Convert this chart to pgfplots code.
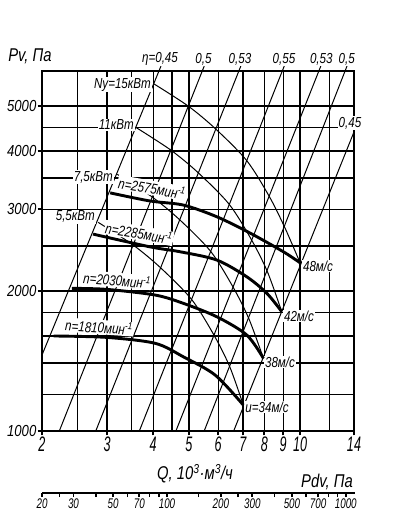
\documentclass[border=0pt]{standalone}
\usepackage{fontspec}
\setmainfont{Liberation Sans}
\newfontfamily\fA{Liberation Sans}[FakeStretch=0.8]
\newfontfamily\fX{Liberation Sans}[FakeStretch=0.6]
\newfontfamily\fY{Liberation Sans}[FakeStretch=0.82]
\newfontfamily\fP{Liberation Sans}[FakeStretch=0.7]
\usepackage{pgfplots}
\pgfplotsset{compat=1.18}

\begin{document}
\begin{tikzpicture}[
  lab/.style={font=\fA\itshape\fontsize{14.5}{14.5}\selectfont, fill=white, inner sep=1pt},
  thinl/.style={black, line width=1pt},
  thickl/.style={black, line width=2.9pt, smooth},
]
\useasboundingbox (-42pt,-96pt) rectangle (355pt,431pt);
\begin{axis}[
  at={(0pt,0pt)}, anchor=south west,
  scale only axis, width=312pt, height=360pt,
  xmode=log, ymode=log,
  xmin=2, xmax=14, ymin=1000, ymax=5950,
  xtick={2,3,4,5,6,7,8,9,10,14},
  xticklabels={2,3,4,5,6,7,8,9,10,14},
  minor xtick={}, minor ytick={},
  extra x ticks={2.5,3.5,4.5,12},
  extra x tick labels={},
  extra x tick style={major tick length=0pt, grid=major, major grid style={black, line width=1.3pt}},
  ytick={1000,2000,3000,4000,5000},
  yticklabels={1000,2000,3000,4000,5000},
  extra y ticks={1200,1400,1600,1800,2500,3500,4500},
  extra y tick labels={},
  extra y tick style={major tick length=0pt, grid=major, major grid style={black, line width=1.3pt}},
  grid=major,
  major grid style={black, line width=1.3pt},
  axis line style={black, line width=2.2pt},
  tick align=outside,
  major tick length=4.5pt,
  tick style={black, line width=1.6pt},
  xtick pos=left, ytick pos=left,
  xticklabel style={font=\fX\itshape\fontsize{21}{21}\selectfont, inner sep=1pt},
  yticklabel style={font=\fY\itshape\fontsize{16}{16}\selectfont, inner sep=1pt},
  clip=false,
]
% efficiency lines
\addplot[thinl] coordinates {(2,1457) (4.20,6095)};
\addplot[thinl] coordinates {(2.228,1000) (5.50,6095)};
\addplot[thinl] coordinates {(2.797,1000) (6.91,6095)};
\addplot[thinl] coordinates {(3.67,1000) (9.06,6095)};
\addplot[thinl] coordinates {(4.61,1000) (11.38,6095)};
\addplot[thinl] coordinates {(5.50,1000) (13.4,6095)};
\addplot[thinl] coordinates {(6.61,1000) (14,4400)};
% power lines
\addplot[thinl, smooth] coordinates {(4.006,5591) (4.981,4998) (5.909,4464) (7.171,3817) (8.246,3200) (9.099,2736) (10.0,2301)};
\addplot[thinl, smooth] coordinates {(3.594,4498) (4.467,4020) (5.302,3592) (6.432,3072) (7.396,2574) (8.159,2200) (8.92,1806)};
\addplot[thinl, smooth] coordinates {(3.199,3565) (3.978,3187) (4.72,2847) (5.728,2434) (6.584,2040) (7.265,1745) (7.96,1433)};
\addplot[thinl, smooth] coordinates {(2.841,2810) (3.531,2512) (4.191,2244) (5.084,1919) (5.846,1608) (6.449,1375) (7.02,1137)};
% labels
\node[lab, rotate=-10] at (rel axis cs:0.3526,0.675) {n=2575мин\textsuperscript{-1}};
\node[lab, rotate=-10] at (rel axis cs:0.3109,0.55) {n=2285мин\textsuperscript{-1}};
\node[lab, rotate=-5] at (rel axis cs:0.2404,0.4194) {n=2030мин\textsuperscript{-1}};
\node[lab, rotate=-4] at (rel axis cs:0.1827,0.2889) {n=1810мин\textsuperscript{-1}};
\node[lab, anchor=east] at (rel axis cs:0.3526,0.9611) {Ny=15кВт};
\node[lab, anchor=east] at (rel axis cs:0.2981,0.85) {11кВт};
\node[lab, anchor=east] at (rel axis cs:0.2308,0.7056) {7,5кВт};
\node[lab, anchor=east] at (rel axis cs:0.1731,0.5953) {5,5кВт};
\node[lab] at (rel axis cs:0.8846,0.4583) {48м/с};
\node[lab] at (rel axis cs:0.8237,0.3194) {42м/с};
\node[lab] at (rel axis cs:0.7628,0.1917) {38м/с};
\node[lab] at (rel axis cs:0.7212,0.0667) {u=34м/с};
\node[lab] at (rel axis cs:0.3782,1.0347) {η=0,45};
\node[lab] at (rel axis cs:0.5176,1.0333) {0,5};
\node[lab] at (rel axis cs:0.6346,1.0333) {0,53};
\node[lab] at (rel axis cs:0.7756,1.0333) {0,55};
\node[lab] at (rel axis cs:0.8952,1.0333) {0,53};
\node[lab] at (rel axis cs:0.9766,1.0333) {0,5};
\node[lab] at (rel axis cs:0.9872,0.8556) {0,45};
% pressure curves
\addplot[thickl] coordinates {(3.06,3253) (3.92,3125) (4.83,3062) (5.95,2890) (7.32,2666) (9.01,2430) (10.0,2301)};
\addplot[thickl] coordinates {(2.75,2652) (3.92,2490) (4.73,2430) (5.95,2332) (7.17,2147) (8.13,1978) (8.92,1806)};
\addplot[thickl] coordinates {(2.41,2027) (2.99,2017) (4.05,1961) (4.83,1882) (5.95,1761) (7.17,1609) (7.96,1433)};
\addplot[thickl] coordinates {(2.15,1601) (2.99,1590) (4.05,1544) (4.83,1444) (5.89,1319) (7.02,1137)};
\end{axis}
\begin{axis}[
  at={(0pt,-61.7pt)}, anchor=south west,
  scale only axis, width=312pt, height=1pt,
  xmode=log, xmin=20, xmax=1112, ymin=0, ymax=1,
  axis line style={draw=none},
  xtick={20,25,30,40,50,60,70,80,90,100,150,200,250,300,400,500,600,700,800,900,1000},
  xticklabels={20,,30,,50,,70,,,100,,200,,300,,500,,700,,,1000},
  minor xtick={}, ytick=\empty,
  tick align=outside, major tick length=4.5pt,
  tick style={black, line width=1.6pt},
  xtick pos=left,
  xticklabel style={font=\fP\itshape\fontsize{14}{14}\selectfont, inner sep=1pt},
]
\addplot[draw=none] coordinates {(20,0) (1000,1)};
\end{axis}
\draw[black, line width=2.2pt] (0pt,-61.7pt) -- (313pt,-61.7pt);
\node[font=\fA\itshape\fontsize{18.5}{18.5}\selectfont] at (-12pt,375pt) {Pv, Па};
\node[font=\fA\itshape\fontsize{18.5}{18.5}\selectfont] at (153pt,-43pt) {Q, 10\textsuperscript{3}·м\textsuperscript{3}/ч};
\node[font=\fA\itshape\fontsize{18.5}{18.5}\selectfont] at (285pt,-50.5pt) {Pdv, Па};
\end{tikzpicture}
\end{document}
